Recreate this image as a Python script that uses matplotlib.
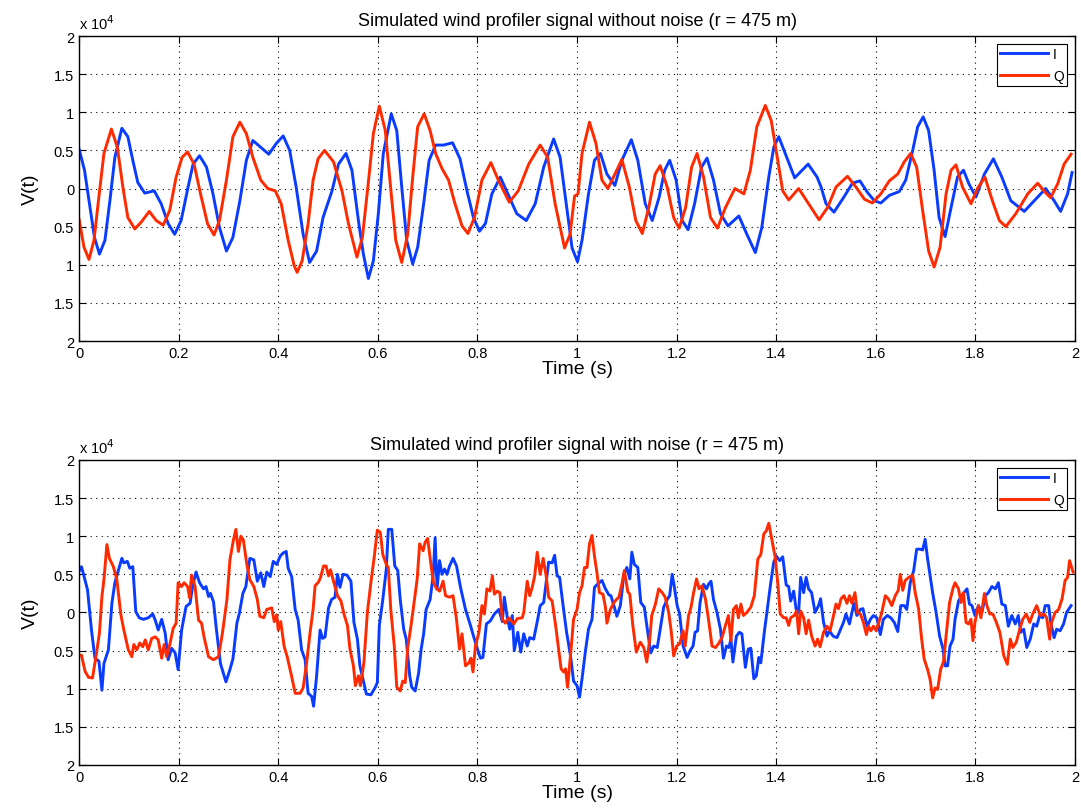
import matplotlib
matplotlib.use('Agg')
import matplotlib.pyplot as plt
import numpy as np

plt.rcParams['font.family'] = ['Liberation Sans', 'DejaVu Sans']

# ---- clean signal (units of 1e4) ----
t_I_clean = [0.000, 0.011, 0.021, 0.031, 0.041, 0.052, 0.062, 0.072, 0.086, 0.098, 0.108, 0.118,
             0.132, 0.151, 0.165, 0.179, 0.192, 0.205, 0.219, 0.229, 0.242, 0.256, 0.269, 0.282,
             0.296, 0.309, 0.323, 0.336, 0.349, 0.365, 0.381, 0.396, 0.410, 0.423, 0.436, 0.450,
             0.463, 0.477, 0.490, 0.508, 0.521, 0.536, 0.548, 0.561, 0.571, 0.581, 0.591, 0.601,
             0.611, 0.627, 0.638, 0.648, 0.658, 0.670, 0.680, 0.692, 0.703, 0.716, 0.732, 0.750,
             0.765, 0.779, 0.792, 0.804, 0.816, 0.829, 0.846, 0.861, 0.879, 0.898, 0.916, 0.933,
             0.953, 0.966, 0.980, 0.990, 1.001, 1.010, 1.023, 1.035, 1.047, 1.060, 1.076, 1.090,
             1.109, 1.122, 1.137, 1.151, 1.165, 1.176, 1.186, 1.199, 1.211, 1.223, 1.236, 1.250,
             1.261, 1.274, 1.288, 1.303, 1.325, 1.341, 1.358, 1.371, 1.385, 1.395, 1.405, 1.418,
             1.437, 1.464, 1.482, 1.490, 1.500, 1.516, 1.536, 1.553, 1.568, 1.583, 1.597, 1.610,
             1.627, 1.647, 1.660, 1.674, 1.684, 1.695, 1.706, 1.717, 1.727, 1.739, 1.751, 1.764,
             1.776, 1.787, 1.801, 1.818, 1.836, 1.853, 1.871, 1.898, 1.918, 1.941, 1.958, 1.971,
             1.985, 1.994]
v_I_clean = [0.52, 0.24, -0.20, -0.64, -0.86, -0.68, -0.16, 0.41, 0.79, 0.68, 0.37, 0.08,
             -0.06, -0.03, -0.20, -0.46, -0.60, -0.42, 0.02, 0.32, 0.43, 0.28, -0.07, -0.51,
             -0.82, -0.64, -0.16, 0.37, 0.63, 0.54, 0.45, 0.59, 0.69, 0.50, 0.02, -0.60,
             -0.97, -0.82, -0.38, -0.03, 0.32, 0.46, 0.24, -0.42, -0.86, -1.18, -0.95, -0.33,
             0.46, 0.98, 0.76, 0.02, -0.68, -0.99, -0.77, -0.20, 0.37, 0.57, 0.57, 0.60,
             0.39, -0.03, -0.38, -0.56, -0.46, -0.07, 0.15, -0.07, -0.33, -0.42, -0.20, 0.28,
             0.65, 0.41, -0.29, -0.78, -0.96, -0.68, -0.07, 0.37, 0.46, 0.19, 0.04, 0.37,
             0.64, 0.37, -0.20, -0.42, -0.11, 0.24, 0.37, 0.11, -0.42, -0.54, -0.20, 0.28,
             0.40, 0.11, -0.33, -0.49, -0.36, -0.60, -0.84, -0.51, 0.15, 0.54, 0.68, 0.46,
             0.14, 0.32, 0.15, 0.02, -0.20, -0.31, -0.11, 0.07, 0.10, -0.05, -0.16, -0.19,
             -0.09, -0.04, 0.11, 0.50, 0.81, 0.94, 0.76, 0.24, -0.38, -0.63, -0.25, 0.15,
             0.24, 0.06, -0.11, 0.19, 0.39, 0.15, -0.16, -0.30, -0.16, 0.00, -0.16, -0.30,
             -0.07, 0.21]

t_Q_clean = [0.000, 0.010, 0.020, 0.030, 0.039, 0.050, 0.065, 0.077, 0.088, 0.098, 0.112, 0.125,
             0.141, 0.155, 0.169, 0.182, 0.195, 0.207, 0.218, 0.231, 0.244, 0.258, 0.271, 0.282,
             0.296, 0.309, 0.323, 0.336, 0.349, 0.365, 0.379, 0.394, 0.406, 0.420, 0.432, 0.438,
             0.448, 0.460, 0.470, 0.480, 0.493, 0.511, 0.528, 0.541, 0.558, 0.569, 0.580, 0.591,
             0.603, 0.615, 0.625, 0.636, 0.648, 0.660, 0.670, 0.680, 0.693, 0.705, 0.716, 0.729,
             0.742, 0.755, 0.769, 0.781, 0.794, 0.809, 0.827, 0.842, 0.864, 0.882, 0.903, 0.926,
             0.941, 0.956, 0.975, 0.986, 0.995, 1.002, 1.010, 1.025, 1.038, 1.050, 1.062, 1.076,
             1.090, 1.105, 1.118, 1.131, 1.144, 1.157, 1.167, 1.181, 1.194, 1.205, 1.218, 1.230,
             1.241, 1.254, 1.268, 1.282, 1.298, 1.317, 1.335, 1.348, 1.361, 1.378, 1.390, 1.402,
             1.413, 1.425, 1.445, 1.465, 1.486, 1.503, 1.520, 1.543, 1.560, 1.577, 1.593, 1.610,
             1.627, 1.644, 1.657, 1.670, 1.682, 1.694, 1.706, 1.717, 1.729, 1.741, 1.751, 1.761,
             1.774, 1.791, 1.804, 1.819, 1.834, 1.848, 1.861, 1.881, 1.905, 1.925, 1.940, 1.951,
             1.965, 1.978, 1.992]
v_Q_clean = [-0.40, -0.77, -0.93, -0.68, -0.16, 0.46, 0.78, 0.54, 0.02, -0.38, -0.53, -0.44,
             -0.30, -0.42, -0.48, -0.29, 0.15, 0.41, 0.48, 0.32, -0.07, -0.46, -0.61, -0.42,
             0.11, 0.68, 0.87, 0.72, 0.41, 0.11, 0.00, -0.03, -0.20, -0.68, -1.01, -1.10,
             -0.95, -0.46, 0.11, 0.39, 0.50, 0.35, -0.03, -0.46, -0.90, -0.64, 0.02, 0.72,
             1.08, 0.76, 0.06, -0.68, -0.97, -0.60, 0.15, 0.81, 0.98, 0.76, 0.46, 0.26,
             0.11, -0.20, -0.49, -0.59, -0.38, 0.11, 0.34, 0.11, -0.18, -0.03, 0.32, 0.57,
             0.41, -0.20, -0.78, -0.60, -0.10, -0.07, 0.46, 0.87, 0.59, 0.11, 0.00, 0.19,
             0.38, 0.02, -0.42, -0.59, -0.25, 0.19, 0.30, 0.02, -0.38, -0.52, -0.25, 0.28,
             0.46, 0.15, -0.38, -0.52, -0.25, 0.00, -0.07, 0.24, 0.81, 1.09, 0.89, 0.41,
             -0.03, -0.15, 0.00, -0.20, -0.41, -0.25, 0.02, 0.16, 0.02, -0.14, -0.19, -0.07,
             0.10, 0.19, 0.35, 0.46, 0.28, -0.29, -0.82, -1.03, -0.77, -0.07, 0.24, 0.31,
             0.02, -0.20, 0.00, 0.15, -0.16, -0.42, -0.50, -0.33, -0.07, 0.07, -0.05, -0.12,
             0.06, 0.32, 0.45]

# ---- noisy signal (units of 1e4) ----
t_I_noisy = [0.000, 0.005, 0.017, 0.025, 0.032, 0.040, 0.046, 0.050, 0.059, 0.066, 0.072, 0.086,
             0.090, 0.097, 0.102, 0.108, 0.114, 0.121, 0.129, 0.139, 0.148, 0.153, 0.159, 0.166,
             0.173, 0.179, 0.186, 0.193, 0.199, 0.206, 0.215, 0.223, 0.228, 0.235, 0.242, 0.250,
             0.255, 0.260, 0.264, 0.270, 0.276, 0.284, 0.295, 0.303, 0.309, 0.317, 0.322, 0.329,
             0.335, 0.343, 0.351, 0.358, 0.365, 0.371, 0.377, 0.384, 0.390, 0.397, 0.404, 0.410,
             0.416, 0.420, 0.427, 0.434, 0.440, 0.447, 0.454, 0.460, 0.467, 0.471, 0.477, 0.484,
             0.489, 0.494, 0.501, 0.507, 0.514, 0.519, 0.524, 0.530, 0.538, 0.546, 0.552, 0.559,
             0.564, 0.571, 0.577, 0.586, 0.595, 0.599, 0.603, 0.610, 0.617, 0.621, 0.628, 0.634,
             0.640, 0.645, 0.652, 0.657, 0.664, 0.668, 0.675, 0.682, 0.687, 0.692, 0.697, 0.705,
             0.711, 0.715, 0.719, 0.724, 0.729, 0.734, 0.739, 0.744, 0.751, 0.758, 0.766, 0.776,
             0.786, 0.793, 0.799, 0.806, 0.811, 0.818, 0.826, 0.834, 0.843, 0.850, 0.854, 0.860,
             0.865, 0.870, 0.874, 0.881, 0.887, 0.893, 0.900, 0.905, 0.913, 0.921, 0.926, 0.933,
             0.938, 0.943, 0.950, 0.955, 0.960, 0.965, 0.972, 0.979, 0.987, 0.993, 1.000, 1.005,
             1.010, 1.017, 1.023, 1.030, 1.035, 1.041, 1.050, 1.057, 1.064, 1.068, 1.074, 1.080,
             1.087, 1.094, 1.100, 1.106, 1.110, 1.115, 1.122, 1.128, 1.135, 1.142, 1.148, 1.154,
             1.161, 1.167, 1.174, 1.181, 1.186, 1.191, 1.195, 1.201, 1.206, 1.213, 1.221, 1.227,
             1.233, 1.237, 1.242, 1.247, 1.254, 1.260, 1.264, 1.269, 1.274, 1.281, 1.288, 1.294,
             1.300, 1.305, 1.309, 1.313, 1.320, 1.326, 1.331, 1.338, 1.344, 1.349, 1.355, 1.360,
             1.365, 1.369, 1.376, 1.383, 1.389, 1.395, 1.400, 1.407, 1.413, 1.420, 1.425, 1.429,
             1.435, 1.440, 1.445, 1.449, 1.455, 1.460, 1.465, 1.471, 1.478, 1.485, 1.489, 1.495,
             1.502, 1.507, 1.514, 1.522, 1.528, 1.535, 1.540, 1.547, 1.552, 1.556, 1.562, 1.569,
             1.574, 1.579, 1.583, 1.589, 1.595, 1.602, 1.609, 1.615, 1.623, 1.630, 1.637, 1.644,
             1.650, 1.657, 1.662, 1.669, 1.676, 1.682, 1.689, 1.694, 1.699, 1.704, 1.709, 1.714,
             1.721, 1.728, 1.735, 1.739, 1.744, 1.749, 1.755, 1.759, 1.766, 1.773, 1.777, 1.783,
             1.788, 1.793, 1.799, 1.806, 1.813, 1.820, 1.826, 1.833, 1.840, 1.846, 1.853, 1.860,
             1.866, 1.873, 1.880, 1.886, 1.891, 1.897, 1.903, 1.910, 1.917, 1.923, 1.929, 1.935,
             1.940, 1.947, 1.951, 1.958, 1.963, 1.970, 1.977, 1.983, 1.992]
v_I_noisy = [0.54, 0.60, 0.30, -0.23, -0.60, -0.64, -1.02, -0.67, -0.49, 0.12, 0.39, 0.71,
             0.65, 0.67, 0.58, 0.60, 0.01, -0.07, -0.09, -0.07, -0.02, -0.10, -0.23, -0.09,
             -0.27, -0.62, -0.47, -0.53, -0.75, -0.23, 0.08, 0.12, 0.34, 0.53, 0.39, 0.31,
             0.34, 0.21, 0.25, 0.14, -0.23, -0.67, -0.91, -0.75, -0.61, -0.14, -0.01, 0.25,
             0.34, 0.71, 0.69, 0.41, 0.52, 0.34, 0.53, 0.47, 0.67, 0.63, 0.74, 0.78,
             0.80, 0.58, 0.47, 0.04, -0.10, -0.49, -0.62, -1.06, -1.10, -1.23, -0.84, -0.23,
             -0.34, -0.32, 0.06, 0.17, 0.20, 0.50, 0.33, 0.50, 0.49, 0.41, -0.13, -0.35,
             -0.70, -0.90, -1.07, -1.08, -0.98, -0.92, -0.17, 0.17, 0.57, 1.09, 1.09, 0.61,
             0.55, 0.17, -0.22, -0.35, -0.83, -0.98, -1.03, -0.79, -0.48, -0.28, 0.04, 0.17,
             0.48, 0.98, 0.31, 0.68, 0.50, 0.57, 0.50, 0.61, 0.71, 0.61, 0.33, 0.04,
             -0.17, -0.33, -0.46, -0.60, -0.59, -0.15, -0.11, -0.02, 0.04, -0.12, 0.20, -0.07,
             -0.22, -0.04, -0.50, -0.26, -0.52, -0.28, -0.44, -0.33, -0.35, -0.09, 0.09, 0.13,
             0.39, 0.66, 0.65, 0.75, 0.48, 0.46, 0.09, -0.26, -0.57, -0.90, -0.96, -1.11,
             -0.87, -0.50, -0.22, -0.09, 0.33, 0.37, 0.42, 0.31, 0.23, 0.22, 0.09, -0.05,
             0.09, 0.50, 0.59, 0.44, 0.79, 0.63, 0.59, 0.13, 0.07, -0.26, -0.53, -0.44,
             -0.46, -0.22, 0.07, 0.17, 0.22, 0.50, 0.35, 0.09, -0.02, -0.44, -0.59, -0.50,
             -0.44, -0.26, -0.24, 0.13, 0.37, 0.31, 0.37, 0.41, 0.17, 0.00, -0.22, -0.60,
             -0.44, -0.46, -0.35, -0.65, -0.31, -0.26, -0.28, -0.72, -0.48, -0.47, -0.87, -0.83,
             -0.59, -0.66, -0.26, 0.09, 0.39, 0.66, 0.74, 0.68, 0.73, 0.36, 0.34, 0.15,
             0.28, 0.04, 0.00, 0.46, 0.26, 0.46, 0.31, 0.26, 0.00, 0.09, 0.18, -0.13,
             -0.31, -0.24, -0.31, -0.33, -0.24, -0.13, -0.02, -0.15, 0.00, 0.12, -0.04, 0.04,
             0.05, -0.09, -0.18, -0.09, -0.04, -0.07, -0.29, -0.09, -0.04, -0.07, -0.13, -0.25,
             0.09, 0.09, 0.04, 0.39, 0.55, 0.83, 0.83, 0.82, 0.96, 0.70, 0.48, 0.26,
             0.00, -0.31, -0.48, -0.70, -0.70, -0.44, -0.35, -0.09, 0.15, 0.22, 0.26, 0.31,
             0.11, 0.09, -0.04, 0.09, 0.00, 0.22, 0.26, 0.34, 0.31, 0.39, 0.11, 0.09,
             -0.18, -0.04, -0.15, -0.04, -0.26, -0.22, -0.46, -0.35, -0.15, -0.18, -0.04, -0.07,
             0.09, 0.09, -0.13, -0.33, -0.22, -0.24, -0.15, 0.00, 0.09]

t_Q_noisy = [0.000, 0.005, 0.012, 0.019, 0.027, 0.034, 0.041, 0.046, 0.050, 0.056, 0.061, 0.069,
             0.076, 0.084, 0.090, 0.099, 0.106, 0.110, 0.116, 0.122, 0.128, 0.133, 0.139, 0.146,
             0.153, 0.159, 0.166, 0.171, 0.176, 0.183, 0.189, 0.195, 0.199, 0.206, 0.211, 0.218,
             0.222, 0.226, 0.233, 0.240, 0.246, 0.251, 0.260, 0.270, 0.280, 0.288, 0.297, 0.303,
             0.310, 0.315, 0.320, 0.325, 0.330, 0.337, 0.343, 0.351, 0.358, 0.363, 0.371, 0.377,
             0.387, 0.392, 0.397, 0.400, 0.405, 0.412, 0.418, 0.427, 0.434, 0.444, 0.450, 0.457,
             0.464, 0.470, 0.474, 0.481, 0.485, 0.491, 0.496, 0.501, 0.505, 0.511, 0.519, 0.526,
             0.532, 0.539, 0.544, 0.551, 0.555, 0.561, 0.565, 0.572, 0.579, 0.586, 0.593, 0.599,
             0.605, 0.610, 0.617, 0.621, 0.626, 0.633, 0.638, 0.645, 0.650, 0.655, 0.660, 0.666,
             0.672, 0.679, 0.684, 0.691, 0.695, 0.700, 0.707, 0.712, 0.718, 0.724, 0.731, 0.736,
             0.744, 0.751, 0.758, 0.764, 0.769, 0.776, 0.783, 0.787, 0.791, 0.796, 0.803, 0.809,
             0.814, 0.819, 0.825, 0.830, 0.834, 0.840, 0.845, 0.850, 0.856, 0.863, 0.873, 0.880,
             0.890, 0.893, 0.900, 0.905, 0.910, 0.915, 0.920, 0.926, 0.932, 0.938, 0.943, 0.950,
             0.957, 0.963, 0.968, 0.973, 0.977, 0.981, 0.988, 0.993, 1.000, 1.005, 1.010, 1.015,
             1.020, 1.025, 1.030, 1.035, 1.040, 1.045, 1.052, 1.057, 1.060, 1.067, 1.074, 1.079,
             1.084, 1.090, 1.095, 1.102, 1.106, 1.112, 1.119, 1.127, 1.134, 1.140, 1.146, 1.150,
             1.157, 1.164, 1.171, 1.177, 1.184, 1.189, 1.194, 1.200, 1.206, 1.213, 1.217, 1.224,
             1.229, 1.234, 1.240, 1.245, 1.251, 1.258, 1.264, 1.271, 1.278, 1.284, 1.291, 1.298,
             1.304, 1.309, 1.314, 1.320, 1.324, 1.329, 1.334, 1.341, 1.349, 1.356, 1.363, 1.369,
             1.375, 1.380, 1.385, 1.391, 1.398, 1.403, 1.408, 1.415, 1.420, 1.425, 1.429, 1.436,
             1.441, 1.445, 1.449, 1.455, 1.460, 1.465, 1.471, 1.478, 1.483, 1.488, 1.495, 1.502,
             1.508, 1.514, 1.520, 1.525, 1.530, 1.536, 1.542, 1.547, 1.552, 1.558, 1.563, 1.569,
             1.575, 1.581, 1.585, 1.590, 1.595, 1.601, 1.605, 1.612, 1.619, 1.625, 1.632, 1.639,
             1.645, 1.649, 1.654, 1.659, 1.666, 1.674, 1.679, 1.686, 1.692, 1.697, 1.704, 1.709,
             1.714, 1.719, 1.724, 1.730, 1.736, 1.741, 1.748, 1.755, 1.759, 1.766, 1.771, 1.776,
             1.781, 1.786, 1.791, 1.795, 1.799, 1.806, 1.811, 1.818, 1.823, 1.829, 1.835, 1.842,
             1.849, 1.857, 1.864, 1.870, 1.875, 1.882, 1.889, 1.895, 1.902, 1.909, 1.915, 1.923,
             1.930, 1.938, 1.943, 1.949, 1.953, 1.960, 1.967, 1.974, 1.980, 1.985, 1.989, 1.996]
v_Q_noisy = [-0.56, -0.56, -0.77, -0.85, -0.86, -0.58, -0.27, 0.21, 0.43, 0.89, 0.71, 0.60,
             0.43, -0.03, -0.23, -0.49, -0.58, -0.42, -0.49, -0.40, -0.45, -0.36, -0.49, -0.34,
             -0.32, -0.36, -0.60, -0.42, -0.58, -0.40, -0.21, -0.14, 0.39, 0.34, 0.39, 0.34,
             0.19, 0.49, 0.34, -0.10, -0.14, -0.32, -0.58, -0.62, -0.58, -0.27, 0.17, 0.69,
             0.95, 1.09, 0.80, 1.00, 0.95, 0.63, 0.43, 0.34, 0.17, -0.05, -0.07, 0.04,
             0.06, -0.12, -0.03, -0.23, -0.12, -0.45, -0.58, -0.84, -1.06, -1.06, -0.99, -0.66,
             -0.26, 0.04, 0.35, 0.40, 0.46, 0.61, 0.61, 0.48, 0.56, 0.41, 0.22, 0.15,
             -0.02, -0.17, -0.48, -0.70, -0.96, -0.83, -0.96, -0.66, 0.00, 0.39, 0.74, 1.08,
             1.05, 0.76, 0.63, 0.59, 0.04, -0.44, -0.98, -1.03, -0.90, -0.92, -0.46, -0.20,
             0.09, 0.44, 0.90, 0.81, 0.92, 0.97, 0.61, 0.39, 0.31, 0.28, 0.41, 0.22,
             0.20, 0.22, -0.09, -0.48, -0.28, -0.70, -0.66, -0.60, -0.78, -0.44, -0.26, 0.09,
             -0.02, 0.31, 0.28, 0.48, 0.24, 0.28, 0.26, -0.09, -0.14, -0.07, -0.15, -0.08,
             -0.07, 0.00, 0.41, 0.22, 0.33, 0.48, 0.79, 0.50, 0.71, 0.48, 0.20, 0.15,
             -0.17, -0.48, -0.74, -0.78, -0.74, -0.98, -0.48, -0.09, 0.04, 0.26, 0.35, 0.59,
             0.59, 0.90, 1.01, 0.74, 0.52, 0.26, 0.24, 0.07, -0.14, 0.04, 0.13, 0.17,
             0.20, 0.37, 0.55, 0.27, 0.24, -0.17, -0.52, -0.39, -0.46, -0.65, -0.35, -0.04,
             0.10, 0.31, 0.26, 0.20, 0.00, -0.24, -0.57, -0.44, -0.41, -0.24, -0.44, -0.04,
             0.07, 0.26, 0.44, 0.31, 0.35, 0.17, -0.09, -0.44, -0.46, -0.41, -0.33, -0.17,
             -0.04, -0.37, 0.04, 0.09, -0.07, 0.11, -0.04, 0.00, 0.07, 0.22, 0.70, 0.76,
             1.03, 1.07, 1.17, 0.96, 0.72, 0.39, -0.02, -0.07, -0.07, -0.17, -0.07, -0.04,
             0.02, -0.28, 0.02, -0.07, -0.28, -0.10, -0.31, -0.44, -0.35, -0.45, -0.26, -0.18,
             -0.24, -0.07, 0.11, 0.05, 0.18, 0.22, 0.12, 0.22, 0.12, 0.26, 0.00, -0.02,
             -0.13, -0.29, -0.18, -0.24, -0.18, -0.24, -0.15, 0.00, 0.22, 0.18, 0.09, 0.22,
             0.29, 0.50, 0.29, 0.42, 0.46, 0.49, 0.26, 0.04, -0.35, -0.61, -0.75, -0.88,
             -1.12, -0.99, -1.01, -0.75, -0.64, -0.31, 0.13, 0.32, 0.39, 0.31, 0.13, 0.26,
             -0.13, -0.15, -0.09, -0.37, -0.13, 0.09, -0.07, 0.25, 0.09, -0.02, -0.02, -0.13,
             -0.26, -0.57, -0.68, -0.35, -0.46, -0.39, -0.22, -0.09, -0.02, -0.13, -0.02, 0.09,
             -0.04, -0.02, -0.07, -0.35, -0.13, 0.00, 0.04, 0.18, 0.42, 0.46, 0.68, 0.53]

titles = ['Simulated wind profiler signal without noise (r = 475 m)',
          'Simulated wind profiler signal with noise (r = 475 m)']
x_ticks = [0, 0.2, 0.4, 0.6, 0.8, 1.0, 1.2, 1.4, 1.6, 1.8, 2.0]
x_tick_labels = ['0', '0.2', '0.4', '0.6', '0.8', '1', '1.2', '1.4', '1.6', '1.8', '2']
y_ticks = [-2, -1.5, -1, -0.5, 0, 0.5, 1, 1.5, 2]
y_tick_labels = ['2', '1.5', '1', '0.5', '0', '0.5', '1', '1.5', '2']

blue = '#0a3cff'
red = '#ff2a00'

fig = plt.figure(figsize=(10.81, 8.12), dpi=100)
ax1 = fig.add_axes([0.0731, 0.5788, 0.9214, 0.3756])
ax2 = fig.add_axes([0.0731, 0.0567, 0.9214, 0.3756])

series = [(t_I_clean, v_I_clean, t_Q_clean, v_Q_clean),
          (t_I_noisy, v_I_noisy, t_Q_noisy, v_Q_noisy)]

for ax, (ti, vi, tq, vq), title in zip([ax1, ax2], series, titles):
    ax.plot(ti, vi, color=blue, lw=2.1, label='I', solid_joinstyle='round')
    ax.plot(tq, vq, color=red, lw=2.1, label='Q', solid_joinstyle='round')
    ax.set_xlim(0, 2)
    ax.set_ylim(-2, 2)
    ax.set_xticks(x_ticks)
    ax.set_xticklabels(x_tick_labels)
    ax.set_yticks(y_ticks)
    ax.set_yticklabels(y_tick_labels)
    ax.tick_params(direction='in', top=True, right=True, labelsize=10.5, length=5, width=0.8)
    ax.grid(True, linestyle=(0, (1, 4)), color='black', linewidth=0.8)
    for s in ax.spines.values():
        s.set_linewidth(1.0)
    ax.set_title(title, fontsize=13, pad=8)
    ax.set_xlabel('Time (s)', fontsize=14, labelpad=0)
    ax.set_ylabel('V(t)', fontsize=14, labelpad=11)
    ax.text(0.0, 1.012, r'x 10$^{4}$', transform=ax.transAxes, fontsize=10.5,
            ha='left', va='bottom')
    leg = ax.legend(loc='upper right', fontsize=10, handlelength=3.4, borderaxespad=0.55,
                    fancybox=False, edgecolor='black', framealpha=1, borderpad=0.25,
                    labelspacing=0.55, handletextpad=0.4)
    leg.get_frame().set_linewidth(0.8)

fig.savefig('out.png', dpi=100)
